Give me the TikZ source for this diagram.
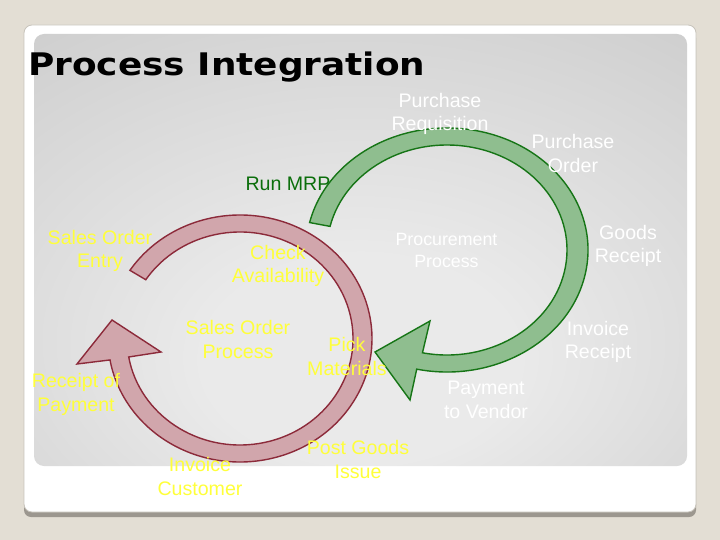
\documentclass[tikz,border=0pt]{standalone}
\usepackage{fontspec}
\usepackage{graphicx}
\setmainfont{Liberation Sans}
\newfontfamily\titlefont{DejaVu Sans}
\usetikzlibrary{calc}
\definecolor{beige}{HTML}{E3DED4}
\definecolor{cardshadow}{HTML}{9C978F}
\definecolor{cardline}{HTML}{C8C4BC}
\definecolor{pcenter}{HTML}{EAEAEA}
\definecolor{pmid}{HTML}{D0D0D0}
\definecolor{pedge}{HTML}{A4A4A4}
\definecolor{gfill}{HTML}{8FBE8F}
\definecolor{gline}{HTML}{167516}
\definecolor{pfill}{HTML}{D1A6AC}
\definecolor{pline}{HTML}{8C2A3A}
\definecolor{lblyellow}{HTML}{FFFF3A}
\definecolor{mrpgreen}{HTML}{0B6E0B}
\pgfdeclareradialshading{panelshade}{\pgfpoint{0bp}{-15bp}}{color(0bp)=(pcenter); color(12bp)=(pcenter); color(40bp)=(pmid); color(62bp)=(pedge); color(80bp)=(pedge)}
\newcommand{\lblfont}{\fontsize{19.6}{23.5}\selectfont}
\newcommand{\smallfont}{\fontsize{17.8}{21.6}\selectfont}
\tikzset{
  lbl/.style={inner sep=0pt, align=center, anchor=base, font=\lblfont},
  whitelbl/.style={lbl, text=white},
  yellowlbl/.style={lbl, text=lblyellow},
  greenarrow/.style={fill=gfill, draw=gline, line width=1.4pt, line join=miter},
  pinkarrow/.style={fill=pfill, draw=pline, line width=1.4pt, line join=miter}
}
\begin{document}
\begin{tikzpicture}[x=1pt, y=-1pt]
\useasboundingbox (0,0) rectangle (720,540);
\fill[beige] (0,0) rectangle (720,540);
% card
\fill[cardshadow, rounded corners=7pt] (24,31) rectangle (696,517);
\filldraw[fill=white, draw=cardline, line width=0.8pt, rounded corners=8pt] (24,25) rectangle (696,512);
% panel
\path[shading=panelshade, rounded corners=10pt] (34,34) rectangle (687,466);
% title
\node[anchor=base west, inner sep=0pt] (title) at (28,76) {\titlefont\bfseries\fontsize{31.1}{36}\selectfont\scalebox{1.154}[1]{Process Integration}};
% centres of the two cycles
\coordinate (gc) at (447,250);
\coordinate (pc) at (240,338.5);
\node[lbl, text=mrpgreen] (mrp) at (288,190.7) {Run MRP};
% pink cycle
\draw[pinkarrow] ($(pc)+(-146.5:132 and 123.5)$) arc[start angle=-146.5, end angle=170, x radius=132, y radius=123.5]
  -- (77,364) -- (112,320) -- (161,352)
  -- ($(pc)+(170:113 and 106.5)$) arc[start angle=170, end angle=-146.5, x radius=113, y radius=106.5] -- cycle;
% green cycle
\draw[greenarrow] ($(gc)+(-167:141 and 122)$) arc[start angle=-167, end angle=102.4, x radius=141, y radius=122]
  -- (410,400) -- (375,352) -- (430,321)
  -- ($(gc)+(101.8:120 and 105)$) arc[start angle=101.8, end angle=-167, x radius=120, y radius=105] -- cycle;
% procurement labels (anchor = baseline of the last line)
\node[whitelbl] (preq) at (440,130.8) {Purchase\\Requisition};
\node[whitelbl] (po) at (573,172.3) {Purchase\\Order};
\node[whitelbl, font=\smallfont] (proc) at (446.5,267.3) {Procurement\\Process};
\node[whitelbl] (gr) at (628,262.5) {Goods\\Receipt};
\node[whitelbl] (ir) at (598,358.8) {Invoice\\Receipt};
\node[whitelbl] (ptv) at (486,418.4) {Payment\\to Vendor};
% sales labels
\node[yellowlbl] (soe) at (100,267.8) {Sales Order\\Entry};
\node[yellowlbl] (chk) at (278,282.8) {Check\\Availability};
\node[yellowlbl] (sop) at (238,358) {Sales Order\\Process};
\node[yellowlbl] (pick) at (347,375.1) {Pick\\Materials};
\node[yellowlbl] (rop) at (76,411.3) {Receipt of\\Payment};
\node[yellowlbl] (ic) at (200,495.4) {Invoice\\Customer};
\node[yellowlbl] (pgi) at (358,478) {Post Goods\\Issue};
\end{tikzpicture}
\end{document}
